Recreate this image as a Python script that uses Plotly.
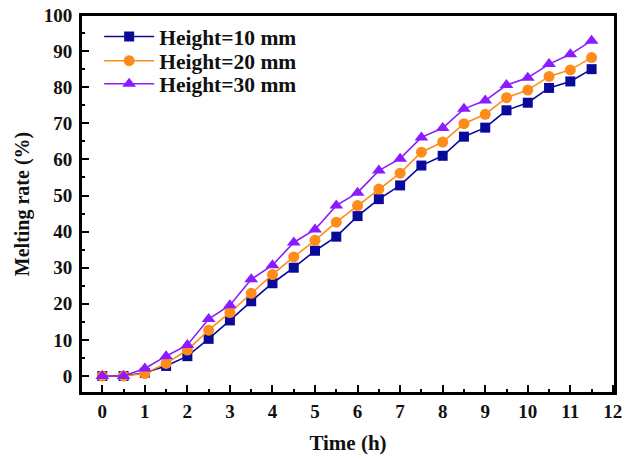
import plotly.graph_objects as go

time_h = [0, 0.5, 1, 1.5, 2, 2.5, 3, 3.5, 4, 4.5, 5, 5.5, 6, 6.5, 7, 7.5, 8, 8.5, 9, 9.5, 10, 10.5, 11, 11.5]
height_10 = [0, 0, 0.9, 2.8, 5.5, 10.3, 15.4, 20.7, 25.7, 30.0, 34.7, 38.6, 44.3, 49.0, 52.8, 58.3, 61.0, 66.3, 68.8, 73.6, 75.7, 79.8, 81.6, 85.0]
height_20 = [0, 0, 0.7, 3.5, 7.2, 12.7, 17.6, 22.9, 28.1, 33.0, 37.6, 42.6, 47.2, 51.8, 56.2, 62.0, 64.8, 69.9, 72.5, 77.1, 79.2, 83.0, 84.8, 88.2]
height_30 = [0, 0, 2.1, 5.5, 8.6, 15.8, 19.6, 26.8, 30.7, 37.0, 40.6, 47.2, 50.8, 56.9, 60.2, 66.1, 68.7, 74.0, 76.3, 80.6, 82.6, 86.4, 89.1, 92.9]
series_names = ["Height=10 mm", "Height=20 mm", "Height=30 mm"]
x_ticks = list(range(0, 13))
y_ticks = list(range(0, 101, 10))

FONT = "Liberation Serif"
styles = [
    dict(color="#0a0a9a", symbol="square", size=10),
    dict(color="#ff8c1a", symbol="circle", size=11),
    dict(color="#8a1cff", symbol="triangle-up", size=12),
]
legend_ids = ["legend", "legend2", "legend3"]
legend_y = [0.943, 0.879, 0.818]

fig = go.Figure()
for name, ys, st, lid in zip(series_names, [height_10, height_20, height_30], styles, legend_ids):
    fig.add_trace(go.Scatter(
        x=time_h, y=ys, name=name, mode="lines+markers",
        line=dict(color=st["color"], width=1.6),
        marker=dict(color=st["color"], symbol=st["symbol"], size=st["size"]),
        cliponaxis=False, legend=lid,
    ))

tickfont = dict(family=FONT, size=19, color="#111", weight="bold")

fig.update_xaxes(
    range=[-0.5, 12.05], tickmode="array", tickvals=x_ticks,
    showline=True, linecolor="black", linewidth=2, mirror=True,
    ticks="inside", ticklen=8, tickwidth=2, tickcolor="black",
    showgrid=False, zeroline=False, automargin=False,
    tickfont=tickfont, ticklabeloverflow="allow", layer="above traces",
    minor=dict(dtick=0.5, ticks="inside", ticklen=4, tickwidth=1.5, tickcolor="black", showgrid=False),
    title=dict(text="Time (h)", font=dict(family=FONT, size=21, color="#111", weight="bold"), standoff=15),
)
fig.update_yaxes(
    range=[-4.7, 100], tickmode="array", tickvals=y_ticks,
    showline=True, linecolor="black", linewidth=2, mirror=True,
    ticks="inside", ticklen=8, tickwidth=2, tickcolor="black",
    showgrid=False, zeroline=False, automargin=False,
    tickfont=tickfont, ticklabeloverflow="allow", layer="above traces",
    ticklabelstandoff=3,
    minor=dict(dtick=5, ticks="inside", ticklen=4, tickwidth=1.5, tickcolor="black", showgrid=False),
    title=dict(text="Melting rate (%)", font=dict(family=FONT, size=20, color="#111", weight="bold"), standoff=9),
)

# plot frame
fig.add_shape(type="rect", xref="paper", yref="paper", x0=0, y0=0, x1=1, y1=1,
              line=dict(color="black", width=2), fillcolor="rgba(0,0,0,0)", layer="above")

legend_common = dict(
    x=0.034, xanchor="left", yanchor="middle",
    font=dict(family=FONT, size=21.5, color="#111", weight="bold"),
    bgcolor="rgba(0,0,0,0)", borderwidth=0, itemwidth=50,
)

fig.update_layout(
    width=634, height=459,
    margin=dict(l=81, r=19, t=15, b=66, autoexpand=False),
    paper_bgcolor="white", plot_bgcolor="rgba(0,0,0,0)",
    showlegend=True,
    legend=dict(y=legend_y[0], **legend_common),
    legend2=dict(y=legend_y[1], **legend_common),
    legend3=dict(y=legend_y[2], **legend_common),
)

# remove the page's default 8px body margin so the figure fills the window exactly
fig.write_html("out.html", config={"displayModeBar": False},
               post_script="document.body.style.margin='0px';")
